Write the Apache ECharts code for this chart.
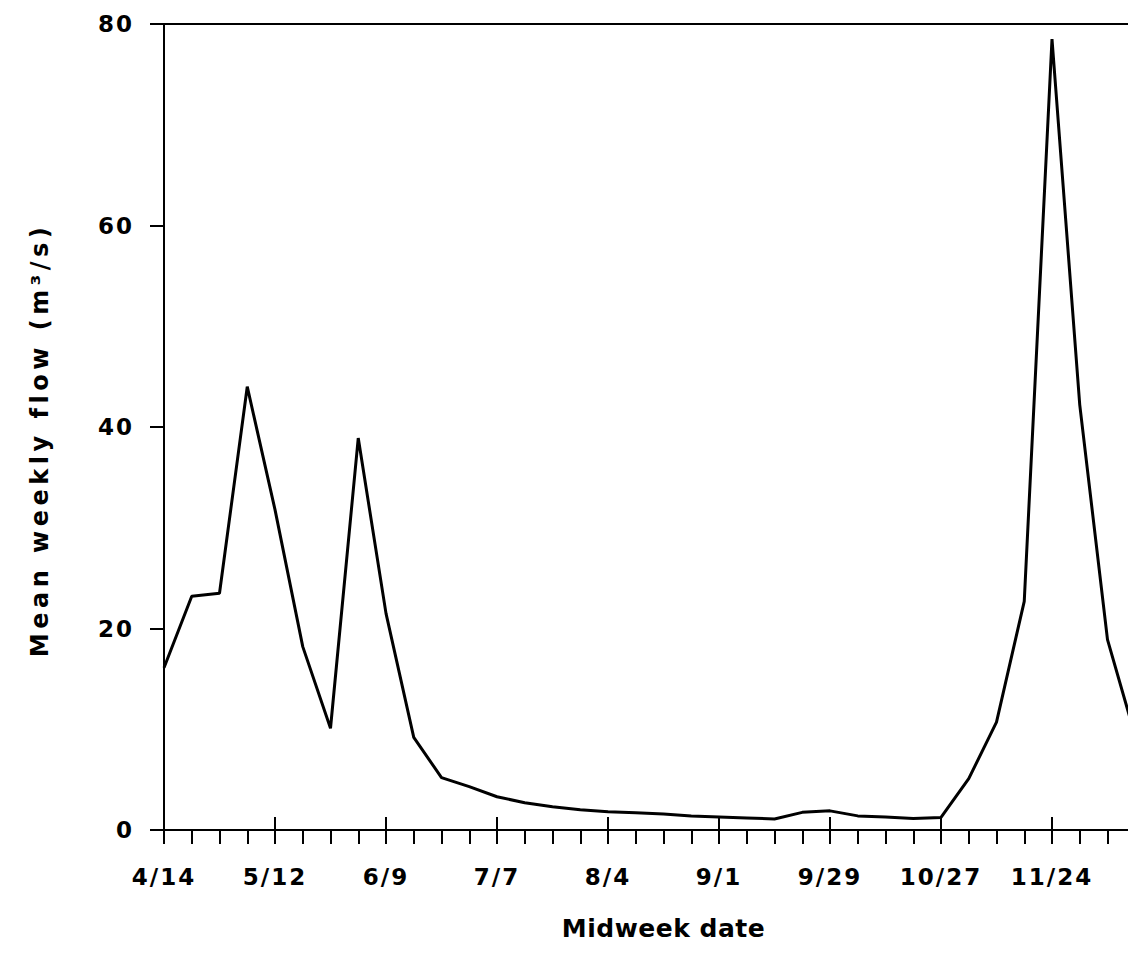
<!DOCTYPE html>
<html>
<head>
<meta charset="utf-8">
<script src="https://cdn.jsdelivr.net/npm/echarts@6/dist/echarts.min.js"></script>
<style>
html, body { margin: 0; padding: 0; background: #fff; overflow: hidden; }
#chart { width: 1128px; height: 972px; }
#chart text[style*="23px"] { letter-spacing: 2px; }
#chart text[style*="24px"] { letter-spacing: 4.5px; }
#chart text[style*="25px"] { letter-spacing: 0.5px; }
</style>
</head>
<body>
<div id="chart"></div>
<script>
// Midweek dates (weekly), starting 4/14
const weeks = ['4/14','4/21','4/28','5/5','5/12','5/19','5/26','6/2','6/9','6/16','6/23','6/30',
  '7/7','7/14','7/21','7/28','8/4','8/11','8/18','8/25','9/1','9/8','9/15','9/22',
  '9/29','10/6','10/13','10/20','10/27','11/3','11/10','11/17','11/24','12/1','12/8','12/15','12/22'];
// Mean weekly flow (m3/s), one value per week
const flow = [16.1, 23.2, 23.5, 44.0, 31.8, 18.2, 10.1, 38.9, 21.5, 9.2, 5.2, 4.3,
  3.3, 2.7, 2.3, 2.0, 1.8, 1.7, 1.6, 1.4, 1.3, 1.2, 1.1, 1.75,
  1.9, 1.4, 1.3, 1.15, 1.25, 5.1, 10.7, 22.7, 78.5, 42.2, 18.9, 9.3];
const yTicks = [0, 20, 40, 60, 80];
const xTitle = 'Midweek date';
const yTitle = 'Mean weekly flow (m³/s)';

const FONT = 'DejaVu Sans';
const chart = echarts.init(document.getElementById('chart'), null, { renderer: 'svg' });
chart.setOption({
  animation: false,
  backgroundColor: '#fff',
  grid: { left: 164, top: 24, width: 999, height: 806, containLabel: false, outerBoundsMode: 'none' },
  xAxis: [
    {
      type: 'category', data: weeks, boundaryGap: false, position: 'bottom',
      axisLine: { show: true, lineStyle: { color: '#000', width: 2 } },
      axisTick: { show: true, interval: 0, length: 14, lineStyle: { color: '#000', width: 2 } },
      axisLabel: { interval: 3, showMaxLabel: false, margin: 35, color: '#000', fontFamily: FONT, fontWeight: 'bold', fontSize: 23 },
      splitLine: { show: false },
      name: xTitle, nameLocation: 'middle', nameGap: 86,
      nameTextStyle: { color: '#000', fontFamily: FONT, fontWeight: 'bold', fontSize: 25 }
    },
    {
      type: 'category', data: weeks, boundaryGap: false, position: 'bottom',
      axisLine: { show: false },
      axisTick: { show: true, interval: 3, inside: true, length: 13, lineStyle: { color: '#000', width: 2 } },
      axisLabel: { show: false }, splitLine: { show: false }
    },
    {
      type: 'category', data: weeks, boundaryGap: false, position: 'top',
      axisLine: { show: true, lineStyle: { color: '#000', width: 2 } },
      axisTick: { show: false }, axisLabel: { show: false }, splitLine: { show: false }
    }
  ],
  yAxis: {
    type: 'value', min: yTicks[0], max: yTicks[yTicks.length - 1], interval: 20,
    axisLine: { show: true, lineStyle: { color: '#000', width: 2 } },
    axisTick: { show: true, length: 14, lineStyle: { color: '#000', width: 2 } },
    axisLabel: { margin: 30, color: '#000', fontFamily: FONT, fontWeight: 'bold', fontSize: 23 },
    splitLine: { show: false },
    name: yTitle, nameLocation: 'middle', nameGap: 112, nameRotate: 90,
    nameTextStyle: { color: '#000', fontFamily: FONT, fontWeight: 'bold', fontSize: 24, padding: [0, 26, 0, 0] }
  },
  series: [{
    type: 'line', data: flow, xAxisIndex: 0, showSymbol: false, symbol: 'none',
    lineStyle: { color: '#000', width: 3 }, clip: true
  }]
});
</script>
</body>
</html>
